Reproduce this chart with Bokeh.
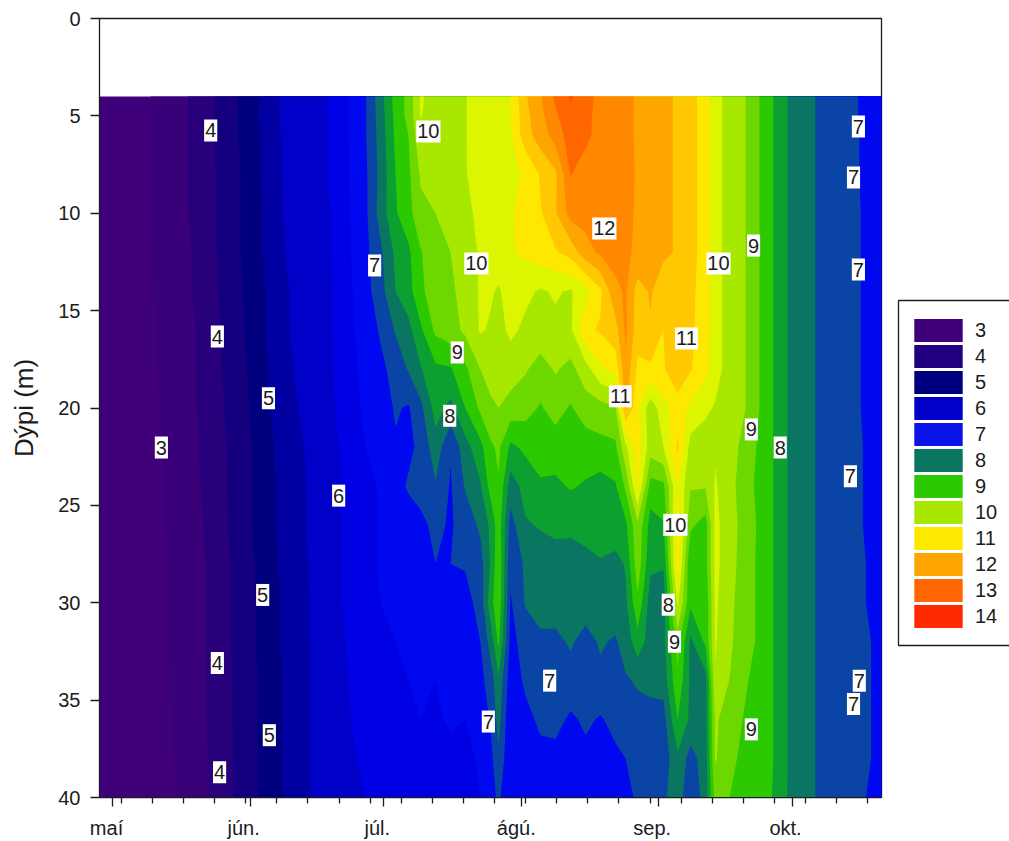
import numpy as np
from bokeh.embed import file_html
from bokeh.layouts import row
from bokeh.resources import INLINE
from bokeh.plotting import figure
from bokeh.core.properties import value
from bokeh.models import (ColumnDataSource, FixedTicker, Legend, LegendItem,
                          LinearAxis, Range1d)

# days since 1 May
days = [-2.9, 8.6, 18.7, 28.8, 38.9, 49.1, 56.9, 60.3, 63.7, 66.6, 69.3, 72.7, 76.1, 79.4,
        82.8, 85.1, 86.9, 89.6, 93.0, 96.3, 99.7, 103.1, 106.5, 109.8, 113.2, 115.5, 118.2,
        121.1, 124.0, 127.2, 130.1, 133.5, 135.7, 138.0, 142.5, 148.1, 152.6, 158.2, 166.1, 173.1]
depths = [4, 5, 6, 8, 10, 12, 14, 16, 18, 20, 22, 24, 26, 28, 30, 32, 34, 36, 38, 40]

t04 = [2.7,3.0,3.6,4.55,5.65,6.03, 6.95,7.8,8.7,9.15,10.05,9.85,9.9,9.98,10.2,10.3,10.35,10.5,11.45,11.95,12.6,13.05,12.75,12.3,12.2,12.1,11.95,11.75,11.6,11.45,11.2,10.75,10.2,9.9,9.5,8.6,7.9,7.5,7.1,6.7]
t05 = [2.7,3.0,3.6,4.55,5.65,6.03, 6.95,7.75,8.65,9.15,10.02,9.85,9.9,9.98,10.2,10.3,10.35,10.5,11.35,11.85,12.4,12.9,12.65,12.3,12.2,12.1,11.95,11.75,11.6,11.45,11.2,10.75,10.2,9.9,9.5,8.6,7.9,7.5,7.1,6.7]
t06 = [2.7,3.0,3.6,4.55,5.6,6.03, 6.95,7.7,8.6,9.0,9.9,9.8,9.85,9.98,10.2,10.3,10.35,10.45,11.3,11.75,12.2,12.75,12.6,12.35,12.2,12.1,11.95,11.75,11.6,11.45,11.2,10.75,10.2,9.9,9.5,8.6,7.9,7.5,7.1,6.75]
t08 = [2.7,3.0,3.6,4.5,5.6,6.03, 6.9,7.65,8.5,8.9,9.55,9.6,9.8,9.98,10.15,10.25,10.3,10.4,10.55,11.05,11.4,12.52,12.3,12.3,12.3,12.15,11.95,11.75,11.6,11.45,11.2,10.75,10.2,9.9,9.5,8.6,7.9,7.5,7.1,6.75]
t10 = [2.7,3.0,3.6,4.5,5.55,6.0, 6.88,7.7,8.45,8.8,9.4,9.5,9.7,9.9,10.1,10.2,10.3,10.45,10.7,10.95,11.45,12.2,12.2,12.25,12.25,12.1,11.95,11.75,11.6,11.45,11.2,10.75,10.2,9.9,9.5,8.6,7.9,7.5,7.1,6.8]
t12 = [2.7,2.98,3.55,4.5,5.5,6.0, 6.85,7.4,8.1,8.4,8.95,9.4,9.5,9.8,10.05,10.2,10.25,10.45,10.6,10.75,10.95,11.2,11.8,12.1,12.15,12.1,11.9,11.8,11.6,11.45,11.2,10.75,10.2,9.9,9.5,8.6,7.9,7.5,7.1,6.8]
t14 = [2.7,2.96,3.55,4.45,5.45,5.98, 6.8,7.3,8.0,8.3,8.9,9.25,9.4,9.7,10.05,10.05,9.95,10.2,10.1,9.95,10.05,9.95,10.35,10.9,11.9,12.05,11.3,11.55,11.2,11.45,11.15,10.7,10.2,9.9,9.5,8.6,7.9,7.5,7.1,6.8]
t16 = [2.7,2.94,3.5,4.4,5.45,5.95, 6.75,7.05,7.55,7.85,8.4,9.1,9.3,9.6,10.05,9.95,9.85,10.1,9.9,9.8,9.9,9.9,10.9,11.05,11.3,12.1,11.2,11.45,11.0,11.4,11.1,10.7,10.2,9.9,9.5,8.6,7.9,7.5,7.1,6.8]
t18 = [2.7,2.92,3.5,4.35,5.4,5.95, 6.65,6.9,7.15,7.55,7.95,8.4,8.45,8.9,9.5,9.6,9.7,9.75,9.55,9.3,9.55,9.35,9.8,10.4,10.7,11.9,10.9,10.9,10.95,11.4,11.05,10.65,10.2,9.9,9.5,8.6,7.9,7.5,7.1,6.8]
t20 = [2.7,2.9,3.48,4.3,5.35,5.9, 6.6,6.75,7.05,6.95,7.35,8.2,7.85,8.5,9.1,9.45,9.5,9.3,9.2,8.95,9.2,8.95,9.25,9.3,9.45,11.6,10.6,9.7,10.3,10.75,10.4,10.1,9.95,9.85,9.5,8.6,7.9,7.5,7.1,6.8]
t22 = [2.7,2.85,3.45,4.25,5.25,5.85, 6.5,6.65,6.95,6.9,7.1,7.8,7.05,7.8,8.35,8.9,9.1,8.4,8.6,8.85,8.75,8.9,8.75,8.85,8.9,9.9,10.7,9.75,10.0,11.1,9.8,9.75,9.95,9.85,9.3,8.6,7.9,7.5,7.1,6.85]
t24 = [2.7,2.84,3.4,4.25,5.2,5.85, 6.35,6.55,6.85,7.05,7.15,7.45,6.95,7.55,7.95,8.7,8.95,7.75,8.2,8.4,8.4,8.55,8.45,8.3,8.45,9.1,10.6,8.8,8.9,10.5,9.55,9.55,10.05,9.8,9.2,8.6,7.9,7.5,7.1,6.85]
t26 = [2.7,2.83,3.35,4.25,5.2,5.85, 6.3,6.55,6.75,6.8,6.9,7.1,6.95,7.2,7.6,8.1,8.8,7.3,7.95,8.05,8.15,8.1,8.2,8.3,8.4,8.4,9.4,8.3,8.45,10.8,9.1,8.8,10.15,9.8,9.3,8.6,7.9,7.5,7.1,6.85]
t28 = [2.7,2.82,3.3,4.2,5.15,5.85, 6.3,6.55,6.65,6.75,6.85,7.0,7.0,7.05,7.3,8.05,8.9,7.1,7.6,7.7,7.75,7.8,7.85,7.95,7.8,8.05,9.3,8.1,8.05,10.8,8.5,8.8,10.15,9.8,9.25,8.6,7.9,7.5,7.1,6.9]
t30 = [2.65,2.8,3.3,4.2,5.1,5.85, 6.3,6.5,6.55,6.6,6.65,6.7,6.75,6.8,7.2,8.3,8.9,6.95,7.55,7.6,7.7,7.6,7.7,7.75,7.75,7.9,8.9,7.75,7.75,10.1,8.6,8.6,10.1,9.7,9.25,8.6,7.9,7.5,7.1,6.9]
t32 = [2.65,2.8,3.3,4.2,5.1,5.85, 6.2,6.4,6.5,6.55,6.55,6.6,6.65,6.7,7.0,7.7,8.6,6.85,7.2,7.45,7.4,7.55,7.35,7.55,7.45,7.7,8.3,7.75,7.8,9.2,7.9,8.6,10.05,9.65,9.25,8.6,7.9,7.5,7.1,6.95]
t34 = [2.65,2.78,3.3,4.15,5.05,5.85, 6.15,6.3,6.4,6.5,6.55,6.5,6.6,6.6,6.85,7.25,7.9,6.7,7.1,7.25,7.15,7.35,7.3,7.4,7.3,7.45,7.55,7.65,7.7,8.9,7.9,7.8,9.95,9.6,9.05,8.6,7.9,7.5,7.1,6.95]
t36 = [2.65,2.76,3.3,4.15,5.05,5.85, 6.1,6.2,6.3,6.4,6.5,6.45,6.55,6.5,6.7,7.05,7.7,6.55,6.85,7.1,7.2,6.9,7.1,6.95,7.15,7.3,7.35,7.3,7.3,8.5,7.9,7.85,9.6,9.3,8.95,8.6,7.9,7.5,7.1,6.95]
t38 = [2.65,2.75,3.25,4.15,5.05,5.85, 6.05,6.1,6.2,6.3,6.3,6.35,6.4,6.4,6.55,6.85,7.4,6.55,6.9,6.85,6.8,6.85,6.85,6.9,6.9,7.0,7.15,7.2,7.2,7.9,7.3,7.75,9.55,9.2,8.85,8.6,7.9,7.5,7.1,6.95]
t40 = [2.65,2.72,3.2,4.15,5.05,5.85, 6.0,6.1,6.15,6.2,6.25,6.3,6.3,6.35,6.5,6.8,7.1,6.5,6.6,6.65,6.7,6.7,6.75,6.8,6.85,6.9,7.05,7.2,7.4,7.8,7.05,7.75,9.2,9.05,8.8,8.55,7.9,7.5,7.1,6.9]
temps = [t04, t05, t06, t08, t10, t12, t14, t16, t18, t20, t22, t24, t26, t28, t30, t32, t34, t36, t38, t40]

levels = [2.5, 3, 3.5, 4, 4.5, 5, 5.5, 6, 6.5, 7, 7.5, 8, 8.5, 9, 9.5, 10, 10.5, 11, 11.5, 12, 12.5, 13, 13.5]
band_colors = ["#40007a", "#3a007a", "#28007c", "#14007e", "#00007e", "#0000a2", "#0000c8", "#0000e4",
               "#0008f0", "#0a45a5", "#0a7560", "#0ba030", "#2cc800", "#6cd800", "#a8e800", "#dcf500",
               "#ffe800", "#ffc800", "#ffa500", "#ff8800", "#ff6600", "#ff4800", "#ff2a00"]
legend_labels = ["3", "4", "5", "6", "7", "8", "9", "10", "11", "12", "13", "14"]
legend_colors = ["#40007a", "#20007f", "#00007f", "#0000c8", "#0a14e8", "#0a7560",
                 "#2cc800", "#a8e800", "#ffe800", "#ffa500", "#ff6600", "#ff2a00"]

month_days = [0, 31, 61, 92, 123, 153]
week_days = [2, 9, 16, 23, 30, 37, 44, 51, 58, 65, 72, 79, 86, 93, 100, 107, 114, 121, 128, 135, 142, 149, 156, 163, 170]
month_label_days = [-1.35, 29.5, 59.6, 90.9, 121.5, 151.5]
month_labels = ["maí", "jún.", "júl.", "ágú.", "sep.", "okt."]
depth_ticks = [0, 5, 10, 15, 20, 25, 30, 35, 40]

label_text = ["4", "10", "7", "7", "12", "9", "7", "10", "10", "7", "4", "11", "9", "5", "11", "8", "9",
              "3", "8", "7", "6", "10", "5", "8", "9", "4", "7", "7", "7", "7", "9", "5", "4"]
label_day = [22.1, 71.1, 167.9, 166.8, 110.7, 144.3, 59.0, 81.9, 136.4, 167.9, 23.6, 129.2, 77.6, 35.1, 114.3, 75.9, 143.8,
             11.0, 150.3, 166.1, 50.9, 126.7, 33.8, 125.1, 126.5, 23.6, 168.1, 98.4, 166.8, 84.6, 143.8, 35.3, 24.1]
label_depth = [5.75, 5.8, 5.55, 8.16, 10.78, 11.66, 12.68, 12.58, 12.58, 12.89, 16.33, 16.43, 17.15, 19.5, 19.4, 20.4, 21.1,
               22.03, 22.03, 23.5, 24.5, 26.0, 29.6, 30.1, 32.0, 33.1, 34.0, 34.0, 35.2, 36.1, 36.5, 36.8, 38.7]

FONT = "Liberation Sans"
INK = "#1c1c1c"

p = figure(width=884, height=841, frame_width=782, frame_height=779,
           min_border_left=99, min_border_right=3, min_border_top=18, min_border_bottom=44,
           x_range=Range1d(-2.93, 173.1), y_range=Range1d(40, 0),
           output_backend="svg", toolbar_location=None)
p.grid.visible = False
p.outline_line_color = INK
p.outline_line_width = 1.3
p.background_fill_color = "white"

x_days = np.array(days)
y_depths = np.array(depths, dtype=float)
z_temps = np.array(temps)
# each band is painted over the previous one, so no seams show between bands
for lvl, col in zip(levels, band_colors):
    p.contour(x_days, y_depths, z_temps, [lvl, 99], fill_color=[col], line_color=None)

ax = p.xaxis[0]
ax.ticker = FixedTicker(ticks=month_days, minor_ticks=week_days)
ax.major_label_overrides = {d: "" for d in month_days}
ax.major_tick_out = 9
ax.major_tick_in = 0
ax.minor_tick_out = 6
ax.minor_tick_in = 0
ax.axis_line_color = INK
ax.major_tick_line_color = INK
ax.minor_tick_line_color = INK
ax.major_tick_line_width = 1.3
ax.minor_tick_line_width = 1.3
ax.major_label_standoff = 0

ax2 = LinearAxis(ticker=FixedTicker(ticks=month_label_days),
                 major_label_overrides=dict(zip(month_label_days, month_labels)),
                 major_tick_out=0, major_tick_in=0, minor_tick_out=0, minor_tick_in=0,
                 axis_line_color=None, major_tick_line_color=None, minor_tick_line_color=None,
                 major_label_text_font=FONT, major_label_text_font_size="20px",
                 major_label_text_color=INK, major_label_standoff=10)
p.add_layout(ax2, "below")

ay = p.yaxis[0]
ay.ticker = FixedTicker(ticks=depth_ticks)
ay.major_tick_out = 9
ay.major_tick_in = 0
ay.minor_tick_line_color = None
ay.axis_line_color = INK
ay.major_tick_line_color = INK
ay.major_tick_line_width = 1.3
ay.major_label_standoff = 10
ay.major_label_text_font = FONT
ay.major_label_text_font_size = "20px"
ay.major_label_text_color = INK
ay.axis_label = "Dýpi (m)"
ay.axis_label_text_font = FONT
ay.axis_label_text_font_style = "normal"
ay.axis_label_text_font_size = "26px"
ay.axis_label_text_color = INK
ay.axis_label_standoff = 16

src = ColumnDataSource(dict(x=label_day, y=label_depth, t=label_text))
p.text(x="x", y="y", text="t", source=src, text_align="center", text_baseline="middle",
       text_font=value(FONT), text_font_size="20px", text_color=INK,
       background_fill_color="white", padding=(1, 4))

lf = figure(width=125, height=841, x_axis_type=None, y_axis_type=None,
            min_border=0, outline_line_color=None, x_range=Range1d(0, 125), y_range=Range1d(797, 18),
            output_backend="svg", toolbar_location=None)
lf.grid.visible = False
lf.quad(left=[14], right=[140], top=[300], bottom=[645], fill_color="white",
        line_color=INK, line_width=1.3)
items = []
for lab, col in zip(legend_labels, legend_colors):
    # off-range quad: only its swatch in the legend is seen
    r = lf.quad(left=[200], right=[210], top=[200], bottom=[210], fill_color=col, line_color=col,
                line_width=2, line_join="miter")
    items.append(LegendItem(label=lab, renderers=[r]))
leg = Legend(items=items, location=(25, 168), orientation="vertical",
             glyph_width=58, glyph_height=26, spacing=0, padding=0, margin=0,
             label_standoff=8, label_text_font=FONT, label_text_font_size="20px",
             label_text_color=INK, label_height=23,
             border_line_color=None, background_fill_alpha=0.0)
lf.add_layout(leg, "center")

open("out.html", "w").write(file_html(row(p, lf, spacing=0), INLINE))
